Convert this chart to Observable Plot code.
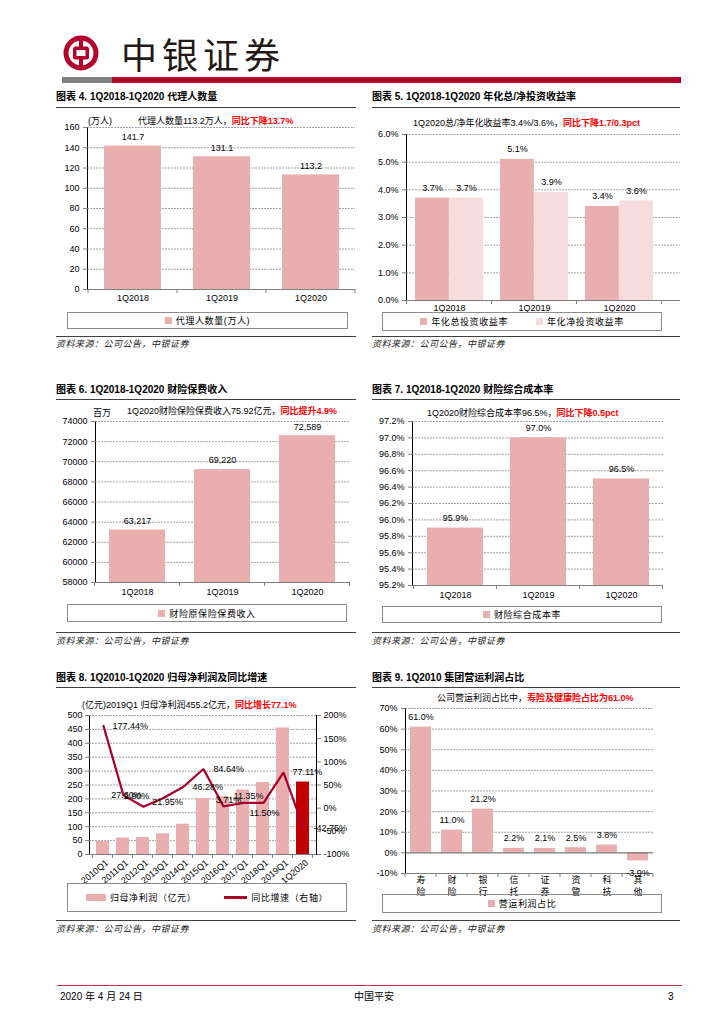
<!DOCTYPE html>
<html><head><meta charset="utf-8">
<script src="https://cdn.jsdelivr.net/npm/d3@7"></script>
<script src="https://cdn.jsdelivr.net/npm/@observablehq/plot@0.6"></script>
<style>
body{margin:0;background:#fff;}
#page{position:relative;width:724px;height:1024px;overflow:hidden;font-family:"Liberation Sans","Noto Sans CJK SC",sans-serif;color:#000;}
.t{position:absolute;white-space:nowrap;line-height:14px;height:14px;}
.title{font-weight:bold;font-size:10px;}
.rule{position:absolute;height:0;border-top:1px solid #404040;}
.src{font-size:9px;font-style:italic;color:#222;letter-spacing:0.5px;}
.note{font-size:9px;}
.red{color:#ff0000;font-weight:bold;}
.legend{position:absolute;border:1px solid #8c8c8c;display:flex;align-items:center;justify-content:center;font-size:9px;box-sizing:border-box;white-space:nowrap;letter-spacing:0.6px;}
.legend .item{display:flex;align-items:center;margin:0 14px;}
.sw{display:inline-block;width:7px;height:7px;margin-right:4px;}
.chart{position:absolute;}
.chart svg g[aria-label*="axis"] path,.chart svg g[aria-label*="axis"] line{stroke:#7f7f7f;}
</style>
</head><body><div id="page"></div>
<script>
// ---------------- DATA ----------------
const c4Categories = ["1Q2018", "1Q2019", "1Q2020"];
const c4Agents = [141.7, 131.1, 113.2];
const c4Ticks = [0, 20, 40, 60, 80, 100, 120, 140, 160];

const c5Categories = ["1Q2018", "1Q2019", "1Q2020"];
const c5Series = ["年化总投资收益率", "年化净投资收益率"];
const c5Total = [3.7, 5.1, 3.4];
const c5Net = [3.7, 3.9, 3.6];
const c5Ticks = [0, 1, 2, 3, 4, 5, 6];

const c6Categories = ["1Q2018", "1Q2019", "1Q2020"];
const c6Premium = [63217, 69220, 72589];
const c6Ticks = [58000, 60000, 62000, 64000, 66000, 68000, 70000, 72000, 74000];

const c7Categories = ["1Q2018", "1Q2019", "1Q2020"];
const c7Ratio = [95.9, 97.0, 96.5];
const c7Ticks = [95.2, 95.4, 95.6, 95.8, 96.0, 96.2, 96.4, 96.6, 96.8, 97.0, 97.2];

const c8Categories = ["2010Q1", "2011Q1", "2012Q1", "2013Q1", "2014Q1", "2015Q1", "2016Q1", "2017Q1", "2018Q1", "2019Q1", "1Q2020"];
const c8Profit = [46.6, 59.4, 61.1, 74.5, 108.9, 201.1, 208.4, 232.2, 258.9, 455.2, 260.6];
const c8Growth = [177.44, 27.60, 2.90, 21.95, 46.28, 84.64, 3.71, 11.35, 11.50, 77.11, -42.75];
const c8LeftTicks = [0, 50, 100, 150, 200, 250, 300, 350, 400, 450, 500];
const c8RightTicks = [-100, -50, 0, 50, 100, 150, 200];

const c9Categories = ["寿险", "财险", "银行", "信托", "证券", "资管", "科技", "其他"];
const c9Share = [61.0, 11.0, 21.2, 2.2, 2.1, 2.5, 3.8, -3.9];
const c9Ticks = [-10, 0, 10, 20, 30, 40, 50, 60, 70];

// ---------------- STYLE ----------------
const FONT = '"Liberation Sans","Noto Sans CJK SC",sans-serif';
const PINK = "#e8afae", LIGHT = "#f6dcdc", DARKRED = "#c00000", LINE = "#a8002a";
const GRID = "#8c8c8c", AXIS = "#7f7f7f";
const STYLE = {fontFamily: FONT, fontSize: "9px", background: "transparent", color: "#000", overflow: "visible"};
const gridOpts = {stroke: GRID, strokeWidth: 0.8, strokeDasharray: "2,1"};
const c8LabelStyle = {
  "2010Q1": {anchor: "start", dx: 9, dy: 0},
  "2011Q1": {anchor: "middle", dx: 3, dy: 0},
  "2012Q1": {anchor: "middle", dx: -7, dy: -11},
  "2013Q1": {anchor: "middle", dx: 4, dy: 4},
  "2014Q1": {anchor: "start", dx: 9, dy: 0},
  "2015Q1": {anchor: "start", dx: 10, dy: 0},
  "2016Q1": {anchor: "middle", dx: 5, dy: -6},
  "2017Q1": {anchor: "middle", dx: 5, dy: -7},
  "2018Q1": {anchor: "middle", dx: 1, dy: 10},
  "2019Q1": {anchor: "start", dx: 9, dy: 0},
  "1Q2020": {anchor: "start", dx: 10, dy: 0}
};

const page = document.getElementById("page");
function el(tag, cls, css, html) {
  const e = document.createElement(tag);
  if (cls) e.className = cls;
  Object.assign(e.style, css || {});
  if (html != null) e.innerHTML = html;
  page.appendChild(e);
  return e;
}
function text(cls, x, y, html, extra) { return el("div", "t " + cls, Object.assign({left: x + "px", top: (y - 7) + "px"}, extra || {}), html); }
function rule(x, y, w) { return el("div", "rule", {left: x + "px", top: y + "px", width: w + "px"}); }
function legend(x, y, w, h, items) {
  const box = el("div", "legend", {left: x + "px", top: y + "px", width: w + "px", height: h + "px"});
  box.innerHTML = items.map(it => `<span class="item">${it.swatch}<span>${it.label}</span></span>`).join("");
}
const sq = c => `<span class="sw" style="background:${c}"></span>`;
function place(plot, x, y) {
  const d = el("div", "chart", {left: x + "px", top: y + "px"});
  d.appendChild(plot);
  return plot;
}
function bandTicks(plot, name, y0, len) {
  try {
    const s = plot.scale(name);
    const step = s.step != null ? s.step : (s.range[1] - s.range[0]) / s.domain.length;
    const half = (step - s.bandwidth) / 2;
    const xs = s.domain.map(d => s.apply(d) - half);
    xs.push(s.apply(s.domain[s.domain.length - 1]) + s.bandwidth + half);
    d3.select(plot).append("g").selectAll("line").data(xs.filter(v => isFinite(v))).join("line")
      .attr("x1", d => d).attr("x2", d => d).attr("y1", y0).attr("y2", y0 + len)
      .attr("stroke", AXIS);
  } catch (e) {}
}

// ---------------- HEADER / FOOTER ----------------
el("div", "", {position: "absolute", left: "63px", top: "35px", width: "36px", height: "36px"},
  `<svg width="36" height="36" viewBox="-18 -18 36 36">
     <circle r="15" fill="none" stroke="#b5002b" stroke-width="5"/>
     <rect x="-2" y="-16" width="4" height="32" fill="#b5002b"/>
     <rect x="-8" y="-6.5" width="16" height="13" rx="2.5" fill="#b5002b"/>
     <rect x="-4.5" y="-3" width="9" height="6" fill="#fff"/>
   </svg>`);
el("div", "", {position: "absolute", left: "121px", top: "30px", fontSize: "36px", lineHeight: "46px", letterSpacing: "5px", color: "#231815", fontFamily: '"Noto Sans CJK SC"', whiteSpace: "nowrap"}, "中银证券");
el("div", "", {position: "absolute", left: "62px", top: "77px", width: "50px", height: "6px", background: "#7f7f7f"});
el("div", "", {position: "absolute", left: "112px", top: "77px", width: "569px", height: "6px", background: "#b5002b"});

el("div", "", {position: "absolute", left: "57px", top: "985px", width: "625px", height: "0", borderTop: "1.5px solid #c8323c"});
text("", 60, 997, "2020 年 4 月 24 日", {fontSize: "10px"});
text("", 354, 997, "中国平安", {fontSize: "10px"});
text("", 668, 997, "3", {fontSize: "10px"});

// ---------------- PANEL FRAMES ----------------
const titles = [
  [56, 97, "图表 4. 1Q2018-1Q2020 代理人数量"], [372, 97, "图表 5. 1Q2018-1Q2020 年化总/净投资收益率"],
  [56, 390, "图表 6. 1Q2018-1Q2020 财险保费收入"], [372, 390, "图表 7. 1Q2018-1Q2020 财险综合成本率"],
  [56, 678, "图表 8. 1Q2010-1Q2020 归母净利润及同比增速"], [372, 678, "图表 9. 1Q2010 集团营运利润占比"]
];
titles.forEach(([x, y, s]) => text("title", x, y, s));
[[56, 107, 300], [372, 107, 308], [56, 399, 300], [372, 399, 308], [56, 687, 300], [372, 687, 308]].forEach(a => rule(...a));
[[56, 336, 300], [372, 336, 308], [56, 632, 300], [372, 632, 308], [56, 920, 300], [372, 920, 308]].forEach(a => rule(...a));
[[56, 344], [372, 344], [56, 641], [372, 641], [56, 929], [372, 929]].forEach(([x, y]) => text("src", x, y, "资料来源：公司公告，中银证券"));

// ---------------- CHART 4 ----------------
{
  const rows = c4Categories.map((c, i) => ({cat: c, value: c4Agents[i]}));
  const W = 310, H = 200, mb = 21;
  const p = Plot.plot({
    width: W, height: H, marginLeft: 37, marginRight: 5, marginTop: 17, marginBottom: mb, style: STYLE,
    x: {domain: c4Categories, paddingInner: 0.36, paddingOuter: 0.18, label: null, tickSize: 0, tickPadding: 5},
    y: {domain: [0, 160], ticks: c4Ticks, label: null, tickSize: 4, tickPadding: 4, line: true},
    marks: [
      Plot.ruleY(c4Ticks.filter(d => d > 0), gridOpts),
      Plot.barY(rows, {x: "cat", y: "value", fill: PINK}),
      Plot.ruleY([0], {stroke: AXIS}),
      Plot.text(rows, {x: "cat", y: "value", text: d => d.value.toFixed(1), dy: -9, lineAnchor: "middle"})
    ]
  });
  place(p, 50, 110);
  bandTicks(p, "x", H - mb, 4);
  text("note", 88, 121, "(万人)");
  text("note", 138, 121, '代理人数量113.2万人，<span class="red">同比下降13.7%</span>');
  legend(67, 312, 281, 17, [{swatch: sq(PINK), label: "代理人数量(万人)"}]);
}

// ---------------- CHART 5 ----------------
{
  const totalRows = c5Categories.map((c, i) => ({cat: c, value: c5Total[i]}));
  const netRows = c5Categories.map((c, i) => ({cat: c, value: c5Net[i]}));
  const W = 320, H = 200, ml = 41, mb = 15;
  const plotW = 256;                       // category-axis length (grid runs a little further right)
  const pi = 0.2, po = 0.1;
  const step = plotW / (c5Categories.length - pi + 2 * po);
  const half = step * (1 - pi) / 2;        // width of one bar of a pair
  const p = Plot.plot({
    width: W, height: H, marginLeft: ml, marginRight: 5, marginTop: 19, marginBottom: mb, style: STYLE,
    x: {domain: c5Categories, range: [ml, ml + plotW], paddingInner: pi, paddingOuter: po, label: null, tickSize: 0, tickPadding: 4},
    y: {domain: [0, 6], ticks: c5Ticks, label: null, tickSize: 4, tickPadding: 4, line: true, tickFormat: d => d.toFixed(1) + "%"},
    marks: [
      Plot.ruleY(c5Ticks.filter(d => d > 0), gridOpts),
      Plot.barY(totalRows, {x: "cat", y: "value", fill: PINK, insetRight: half}),
      Plot.barY(netRows, {x: "cat", y: "value", fill: LIGHT, insetLeft: half}),
      Plot.ruleY([0], {stroke: AXIS}),
      Plot.text(totalRows, {x: "cat", y: "value", text: d => d.value.toFixed(1) + "%", dx: -half / 2, dy: -10, lineAnchor: "middle"}),
      Plot.text(netRows, {x: "cat", y: "value", text: d => d.value.toFixed(1) + "%", dx: half / 2, dy: -10, lineAnchor: "middle"})
    ]
  });
  place(p, 365, 115);
  bandTicks(p, "x", H - mb, 4);
  text("note", 413, 123, '1Q2020总/净年化收益率3.4%/3.6%，<span class="red">同比下降1.7/0.3pct</span>');
  legend(382, 312, 280, 19, [{swatch: sq(PINK), label: c5Series[0]}, {swatch: sq(LIGHT), label: c5Series[1]}]);
}

// ---------------- CHART 6 ----------------
{
  const rows = c6Categories.map((c, i) => ({cat: c, value: c6Premium[i]}));
  const W = 310, H = 200, mb = 18;
  const base = c6Ticks[0];
  const p = Plot.plot({
    width: W, height: H, marginLeft: 45, marginRight: 10, marginTop: 21, marginBottom: mb, style: STYLE,
    x: {domain: c6Categories, paddingInner: 0.34, paddingOuter: 0.17, label: null, tickSize: 0, tickPadding: 6},
    y: {domain: [base, c6Ticks[c6Ticks.length - 1]], ticks: c6Ticks, label: null, tickSize: 4, tickPadding: 4, line: true, tickFormat: d => String(d)},
    marks: [
      Plot.ruleY(c6Ticks.filter(d => d > base), gridOpts),
      Plot.barY(rows, {x: "cat", y1: base, y2: "value", fill: PINK}),
      Plot.ruleY([base], {stroke: AXIS}),
      Plot.text(rows, {x: "cat", y: "value", text: d => d3.format(",")(d.value), dy: -9, lineAnchor: "middle"})
    ]
  });
  place(p, 50, 400);
  bandTicks(p, "x", H - mb, 4);
  text("note", 93, 413, "百万");
  text("note", 127, 411, '1Q2020财险保险保费收入75.92亿元，<span class="red">同比提升4.9%</span>');
  legend(67, 604, 280, 18, [{swatch: sq(PINK), label: "财险原保险保费收入"}]);
}

// ---------------- CHART 7 ----------------
{
  const rows = c7Categories.map((c, i) => ({cat: c, value: c7Ratio[i]}));
  const W = 320, H = 200, mb = 15;
  const base = c7Ticks[0];
  const p = Plot.plot({
    width: W, height: H, marginLeft: 47, marginRight: 22, marginTop: 21, marginBottom: mb, style: STYLE,
    x: {domain: c7Categories, paddingInner: 0.33, paddingOuter: 0.165, label: null, tickSize: 0, tickPadding: 6},
    y: {domain: [base, c7Ticks[c7Ticks.length - 1]], ticks: c7Ticks, label: null, tickSize: 4, tickPadding: 4, line: true, tickFormat: d => d.toFixed(1) + "%"},
    marks: [
      Plot.ruleY(c7Ticks.filter(d => d > base), gridOpts),
      Plot.barY(rows, {x: "cat", y1: base, y2: "value", fill: PINK}),
      Plot.ruleY([base], {stroke: AXIS}),
      Plot.text(rows, {x: "cat", y: "value", text: d => d.value.toFixed(1) + "%", dy: -10, lineAnchor: "middle"})
    ]
  });
  place(p, 365, 400);
  bandTicks(p, "x", H - mb, 4);
  text("note", 427, 413, '1Q2020财险综合成本率96.5%，<span class="red">同比下降0.5pct</span>');
  legend(382, 606, 280, 17, [{swatch: sq(PINK), label: "财险综合成本率"}]);
}

// ---------------- CHART 8 ----------------
{
  const rows = c8Categories.map((c, i) => ({cat: c, profit: c8Profit[i], growth: c8Growth[i], last: i === c8Categories.length - 1}));
  const W = 310, H = 190, ml = 39, mr = 44, mt = 15, mb = 36;
  const xOpts = {domain: c8Categories, paddingInner: 0.35, paddingOuter: 0.175, axis: null};
  const left = Plot.plot({
    width: W, height: H, marginLeft: ml, marginRight: mr, marginTop: mt, marginBottom: mb, style: STYLE,
    x: xOpts,
    y: {domain: [0, 500], ticks: c8LeftTicks, label: null, tickSize: 4, tickPadding: 3, line: true},
    marks: [
      Plot.ruleY(c8LeftTicks.filter(d => d > 0), gridOpts),
      Plot.barY(rows, {x: "cat", y: "profit", fill: d => d.last ? DARKRED : PINK}),
      Plot.ruleY([0], {stroke: AXIS}),
      Plot.text(c8Categories, {x: d => d, y: 0, text: d => d, rotate: -40, textAnchor: "end", lineAnchor: "middle", dx: 4, dy: 7})
    ]
  });
  place(left, 50, 700);
  bandTicks(left, "x", H - mb, 4);
  const labelMarks = c8Categories.map(c => {
    const s = c8LabelStyle[c];
    return Plot.text(rows.filter(r => r.cat === c), {x: "cat", y: "growth", text: d => d.growth.toFixed(2) + "%", textAnchor: s.anchor, dx: s.dx, dy: s.dy, lineAnchor: "middle"});
  });
  const right = Plot.plot({
    width: W, height: H, marginLeft: ml, marginRight: mr, marginTop: mt, marginBottom: mb, style: STYLE,
    x: xOpts,
    y: {domain: [-100, 200], ticks: c8RightTicks, axis: "right", label: null, tickSize: 4, tickPadding: 3, line: true, tickFormat: d => d + "%"},
    marks: [
      Plot.line(rows, {x: "cat", y: "growth", stroke: LINE, strokeWidth: 2.2, strokeLinejoin: "miter"}),
      ...labelMarks
    ]
  });
  place(right, 50, 700);
  text("note", 82, 705, '(亿元)2019Q1 归母净利润455.2亿元，<span class="red">同比增长77.1%</span>');
  legend(67, 883, 280, 29, [
    {swatch: `<span style="display:inline-block;width:20px;height:7px;background:${PINK};margin-right:4px"></span>`, label: "归母净利润（亿元）"},
    {swatch: `<span style="display:inline-block;width:23px;height:2.5px;background:${LINE};margin-right:4px"></span>`, label: "同比增速（右轴）"}
  ]);
}

// ---------------- CHART 9 ----------------
{
  const rows = c9Categories.map((c, i) => ({cat: c, value: c9Share[i]}));
  const W = 320, H = 215, mb = 32;
  const base = c9Ticks[0];
  const p = Plot.plot({
    width: W, height: H, marginLeft: 40, marginRight: 32, marginTop: 18, marginBottom: mb, style: STYLE,
    x: {domain: c9Categories, paddingInner: 0.32, paddingOuter: 0.16, axis: null},
    y: {domain: [base, c9Ticks[c9Ticks.length - 1]], ticks: c9Ticks, label: null, tickSize: 4, tickPadding: 4, line: true, tickFormat: d => d + "%"},
    marks: [
      Plot.ruleY(c9Ticks.filter(d => d > 0), gridOpts),
      Plot.barY(rows, {x: "cat", y: "value", fill: PINK}),
      Plot.ruleY([0], {stroke: "#595959"}),
      Plot.ruleY([base], {stroke: AXIS}),
      Plot.text(rows.filter(d => d.value >= 0), {x: "cat", y: "value", text: d => d.value.toFixed(1) + "%", dy: -10, lineAnchor: "middle"}),
      Plot.text(rows.filter(d => d.value < 0), {x: "cat", y: "value", text: d => d.value.toFixed(1) + "%", dy: 12, lineAnchor: "middle"}),
      Plot.text(c9Categories, {x: d => d, y: base, text: d => d.split("").join("\n"), lineAnchor: "top", lineHeight: 1.35, dy: 1})
    ]
  });
  place(p, 365, 690);
  bandTicks(p, "x", H - mb, 4);
  text("note", 437, 698, '公司营运利润占比中，<span class="red">寿险及健康险占比为61.0%</span>');
  legend(382, 894, 280, 19, [{swatch: sq(PINK), label: "营运利润占比"}]);
}
</script>
</body></html>
